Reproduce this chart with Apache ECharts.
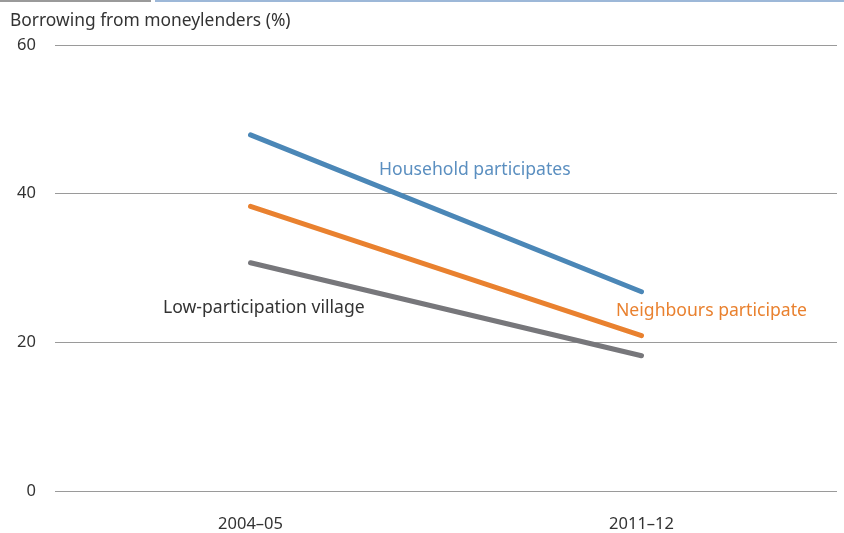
<!DOCTYPE html>
<html>
<head>
<meta charset="utf-8">
<script src="https://cdn.jsdelivr.net/npm/echarts@6/dist/echarts.min.js"></script>
<style>
  html, body { margin: 0; padding: 0; background: #fff; }
  #chart { width: 844px; height: 533px; }
</style>
</head>
<body>
<div id="chart"></div>
<script>
// data
const years = ['2004–05', '2011–12'];
const household = [47.9, 26.8];
const neighbours = [38.3, 20.9];
const lowVillage = [30.7, 18.2];
const yTicks = [0, 20, 40, 60];

const FONT = '"Noto Sans", Lato, sans-serif';
const BLUE = '#4b87b7';
const ORANGE = '#e9812f';
const GREY = '#77777b';

let chart = echarts.init(document.getElementById('chart'));

let option = {
  backgroundColor: '#fff',
  animation: false,
  grid: { left: 55, right: 7, top: 45, bottom: 42 },
  xAxis: {
    type: 'category',
    data: years,
    boundaryGap: true,
    axisLine: { show: false },
    axisTick: { show: false },
    axisLabel: { color: '#333', fontSize: 16.5, fontFamily: FONT, margin: 25 }
  },
  yAxis: {
    type: 'value',
    min: yTicks[0],
    max: yTicks[yTicks.length - 1],
    interval: 20,
    axisLine: { show: false },
    axisTick: { show: false },
    splitLine: { lineStyle: { color: '#9a9a9a', width: 1 } },
    axisLabel: { color: '#333', fontSize: 16.5, fontFamily: FONT, margin: 19 }
  },
  series: [
    {
      name: 'Household participates', type: 'line', data: household,
      symbol: 'none', lineStyle: { color: BLUE, width: 5, cap: 'round' }
    },
    {
      name: 'Neighbours participate', type: 'line', data: neighbours,
      symbol: 'none', lineStyle: { color: ORANGE, width: 5, cap: 'round' }
    },
    {
      name: 'Low-participation village', type: 'line', data: lowVillage,
      symbol: 'none', lineStyle: { color: GREY, width: 5, cap: 'round' }
    }
  ],
  graphic: [
    // top rule
    { type: 'rect', left: 0, top: 0, shape: { width: 151, height: 2 }, style: { fill: '#9a9a9a' } },
    { type: 'rect', left: 155, top: 0, shape: { width: 689, height: 2 }, style: { fill: '#9db8d8' } },
    { type: 'text', left: 10, top: 13,
      style: { text: 'Borrowing from moneylenders (%)', fill: '#333', font: '17.4px ' + FONT } },
    { type: 'text', left: 379, top: 161,
      style: { text: 'Household participates', fill: '#5b8fc0', font: '17.6px ' + FONT } },
    { type: 'text', left: 616, top: 302,
      style: { text: 'Neighbours participate', fill: ORANGE, font: '17.6px ' + FONT } },
    { type: 'text', left: 163, top: 299,
      style: { text: 'Low-participation village', fill: '#333', font: '17.6px ' + FONT } }
  ]
};

chart.setOption(option);
</script>
</body>
</html>
